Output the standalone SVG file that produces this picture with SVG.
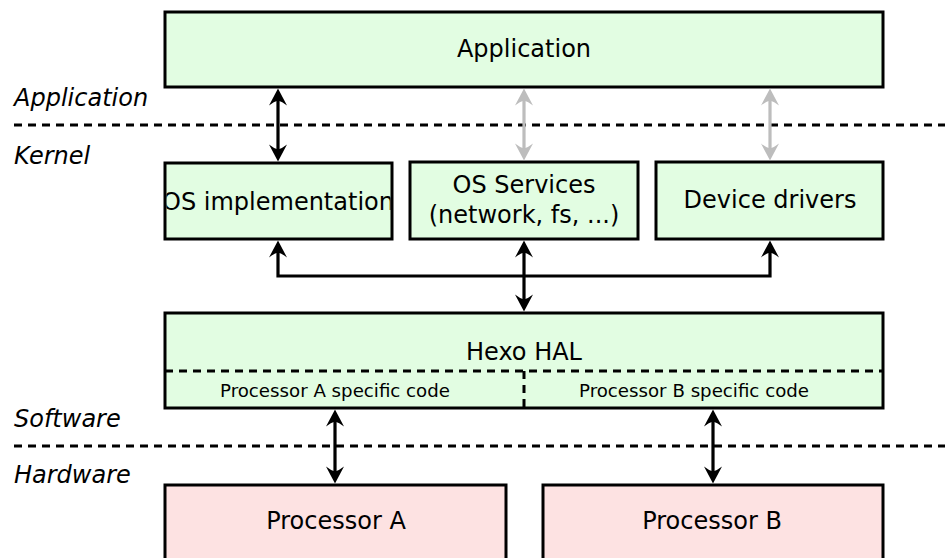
<svg xmlns="http://www.w3.org/2000/svg" width="949" height="558" viewBox="0 0 949 558">
<style>
.box{fill:#e2fde2;stroke:#000;stroke-width:3}
.hw{fill:#fde2e2;stroke:#000;stroke-width:3}
.t{font-family:"DejaVu Sans","Noto Sans",sans-serif;font-size:24px;fill:#000;text-anchor:middle}
.s{font-family:"DejaVu Sans","Noto Sans",sans-serif;font-size:18.2px;fill:#000;text-anchor:middle}
.lbl{font-family:"DejaVu Sans","Noto Sans",sans-serif;font-size:24px;font-style:italic;fill:#000}
.dash{stroke:#000;stroke-width:3;stroke-dasharray:8,6;fill:none}
.c{stroke:#000;stroke-width:3.2;fill:none;marker-start:url(#ah);marker-end:url(#ah)}
.cg{stroke:#bdbdbd;stroke-width:3.2;fill:none;marker-start:url(#ahg);marker-end:url(#ahg)}
</style>
<defs>
<marker id="ah" viewBox="-12 -11 24 22" markerWidth="24" markerHeight="22" refX="0" refY="0" orient="auto-start-reverse" markerUnits="userSpaceOnUse"><path d="M8,0 L-9,-9 Q-5,-4 -4,0 Q-5,4 -9,9 Z" fill="#000"/></marker>
<marker id="ahg" viewBox="-12 -11 24 22" markerWidth="24" markerHeight="22" refX="0" refY="0" orient="auto-start-reverse" markerUnits="userSpaceOnUse"><path d="M8,0 L-9,-9 Q-5,-4 -4,0 Q-5,4 -9,9 Z" fill="#bdbdbd"/></marker>
<clipPath id="clipos"><rect x="166.5" y="164.5" width="224" height="73"/></clipPath>
</defs>

<g id="layers">
<line class="dash" x1="14" y1="125" x2="945" y2="125"/>
<line class="dash" x1="14" y1="446" x2="945" y2="446"/>
<text class="lbl" x="14" y="106">Application</text>
<text class="lbl" x="14" y="164">Kernel</text>
<text class="lbl" x="14" y="427">Software</text>
<text class="lbl" x="14" y="483">Hardware</text>
</g>

<g id="application">
<rect class="box" x="165" y="12" width="718" height="75"/>
<text class="t" x="524" y="57">Application</text>
</g>

<g id="os-implementation">
<rect x="165" y="163" width="227" height="76" fill="#e2fde2"/>
<text class="t" x="278" y="210" clip-path="url(#clipos)" font-size="25.5">OS implementation</text>
<rect x="165" y="163" width="227" height="76" fill="none" stroke="#000" stroke-width="3"/>
</g>

<g id="os-services">
<rect class="box" x="410" y="162" width="228" height="77"/>
<text class="t" x="524" y="193">OS Services</text>
<text class="t" x="524" y="223">(network, fs, ...)</text>
</g>

<g id="device-drivers">
<rect class="box" x="656" y="162" width="227" height="77"/>
<text class="t" x="770" y="208">Device drivers</text>
</g>

<g id="hexo-hal">
<rect class="box" x="165" y="313" width="718" height="95"/>
<line class="dash" x1="165" y1="371" x2="883" y2="371"/>
<line class="dash" x1="524" y1="371" x2="524" y2="408"/>
<text class="t" x="524" y="360">Hexo HAL</text>
<text class="s" x="335" y="397">Processor A specific code</text>
<text class="s" x="694" y="397">Processor B specific code</text>
</g>

<g id="processor-a">
<rect class="hw" x="165" y="485" width="341" height="80"/>
<text class="t" x="336" y="529">Processor A</text>
</g>

<g id="processor-b">
<rect class="hw" x="543" y="485" width="340" height="80"/>
<text class="t" x="712" y="529">Processor B</text>
</g>

<g id="connectors">
<line class="c" x1="278" y1="96.5" x2="278" y2="153.5"/>
<line class="cg" x1="524" y1="96.5" x2="524" y2="152.5"/>
<line class="cg" x1="770" y1="96.5" x2="770" y2="152.5"/>
<path class="c" d="M278,248.5 V276 H770 V248.5"/>
<line class="c" x1="524" y1="248.5" x2="524" y2="303.5"/>
<line class="c" x1="335" y1="417.5" x2="335" y2="475.5"/>
<line class="c" x1="713" y1="417.5" x2="713" y2="475.5"/>
</g>
</svg>
